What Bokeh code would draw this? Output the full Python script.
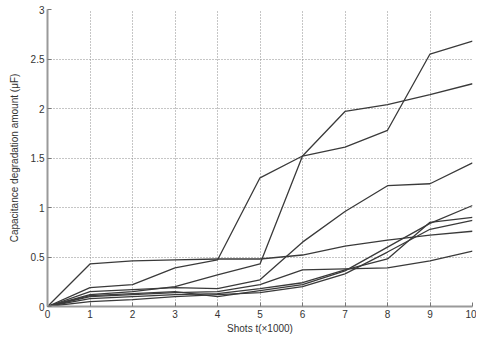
from bokeh.plotting import figure
from bokeh.models import Range1d, FixedTicker
from bokeh.embed import file_html
from bokeh.resources import INLINE

shots = [0, 1, 2, 3, 4, 5, 6, 7, 8, 9, 10]
cap_a = [0, 0.19, 0.22, 0.39, 0.47, 1.30, 1.52, 1.61, 1.78, 2.55, 2.68]
cap_b = [0, 0.12, 0.15, 0.20, 0.32, 0.43, 1.52, 1.97, 2.04, 2.14, 2.25]
cap_c = [0, 0.15, 0.17, 0.19, 0.18, 0.27, 0.65, 0.96, 1.22, 1.24, 1.45]
cap_d = [0, 0.43, 0.46, 0.47, 0.48, 0.48, 0.52, 0.61, 0.67, 0.72, 0.76]
cap_e = [0, 0.10, 0.12, 0.14, 0.15, 0.22, 0.37, 0.38, 0.39, 0.46, 0.56]
cap_f = [0, 0.08, 0.10, 0.12, 0.13, 0.18, 0.24, 0.37, 0.48, 0.85, 0.90]
cap_g = [0, 0.11, 0.13, 0.15, 0.10, 0.16, 0.22, 0.36, 0.60, 0.84, 1.02]
cap_h = [0, 0.05, 0.07, 0.10, 0.12, 0.14, 0.20, 0.33, 0.55, 0.78, 0.87]
series = [cap_a, cap_b, cap_c, cap_d, cap_e, cap_f, cap_g, cap_h]

x_ticks = [0, 1, 2, 3, 4, 5, 6, 7, 8, 9, 10]
y_ticks = [0, 0.5, 1, 1.5, 2, 2.5, 3]

p = figure(width=476, height=336, output_backend="svg", toolbar_location=None,
           x_range=Range1d(0, 10), y_range=Range1d(0, 3),
           min_border_left=47, min_border_right=4, min_border_top=9, min_border_bottom=27)
p.background_fill_color = "white"
p.border_fill_color = "white"
p.outline_line_color = None

for g in (p.xgrid, p.ygrid):
    g.grid_line_color = "#8c8c8c"
    g.grid_line_dash = "1 2"
    g.grid_line_width = 1
    g.grid_line_alpha = 1.0
    g.level = "underlay"

for s in series:
    p.line(shots, s, line_color="#3a3a3a", line_width=1.3)

p.xaxis.ticker = FixedTicker(ticks=x_ticks)
p.yaxis.ticker = FixedTicker(ticks=y_ticks)
p.yaxis.major_label_overrides = {0: "0", 1: "1", 2: "2", 3: "3"}

for ax in (p.xaxis, p.yaxis):
    ax.axis_line_color = "#9a9a9a"
    ax.axis_line_width = 2
    ax.major_tick_line_color = "#777777"
    ax.major_tick_in = 4
    ax.major_tick_out = 0
    ax.minor_tick_line_color = None
    ax.major_label_text_font = "Liberation Sans"
    ax.major_label_text_font_size = "10px"
    ax.major_label_text_color = "#333333"
    ax.axis_label_text_font = "Liberation Sans"
    ax.axis_label_text_font_size = "10px"
    ax.axis_label_text_font_style = "normal"
    ax.axis_label_text_color = "#333333"
    ax.major_label_standoff = 3

p.xaxis.axis_label = "Shots t(\u00d71000)"
p.yaxis.axis_label = "Capacitance degradation amount (\u03bcF)"
p.xaxis.axis_label_standoff = 2
p.yaxis.axis_label_standoff = 8

open("out.html", "w").write(file_html(p, INLINE))
